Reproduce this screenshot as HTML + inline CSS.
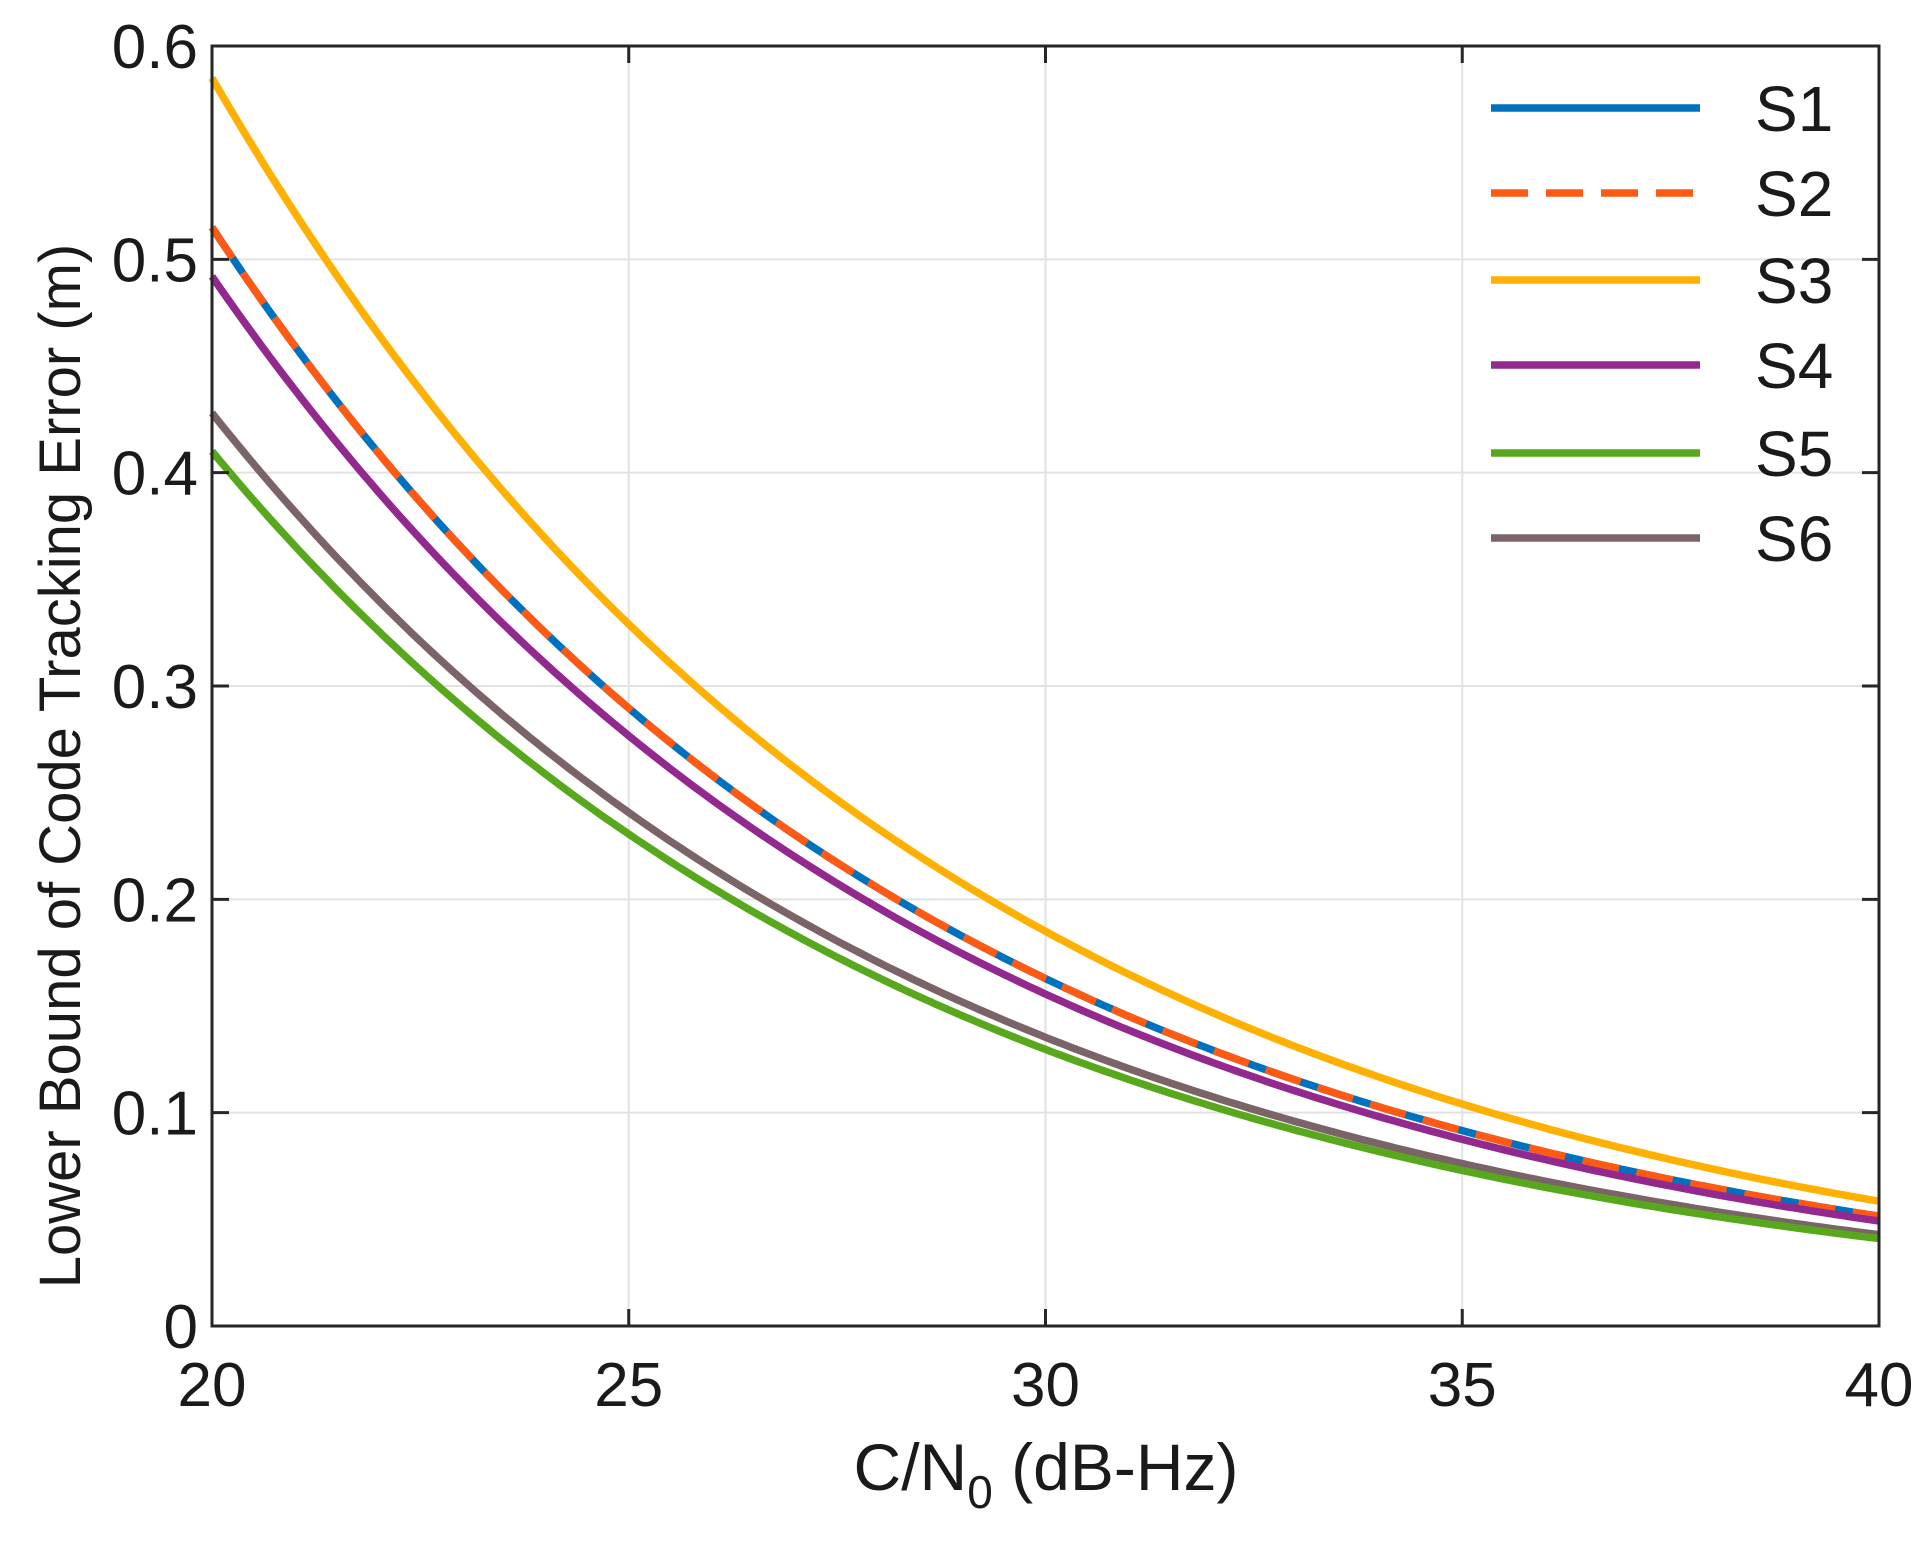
<!DOCTYPE html>
<html><head><meta charset="utf-8"><style>
html,body{margin:0;padding:0;background:#fff;}
svg text{font-family:"Liberation Sans",Arial,sans-serif;fill:#1a1a1a;}
</style></head><body>
<svg id="s" width="1929" height="1540" xmlns="http://www.w3.org/2000/svg">
<rect width="1929" height="1540" fill="#fff"/>
<g id="grid" stroke="#e2e2e2" stroke-width="2"></g>
<g id="curves" fill="none" stroke-width="7.5"></g>
<rect x="212" y="46" width="1667" height="1280" fill="none" stroke="#262626" stroke-width="3"/>
<g id="ticks" stroke="#262626" stroke-width="3"></g>
<g id="labels" font-size="62"></g>
<text x="1046" y="1490" font-size="66" text-anchor="middle">C/N<tspan font-size="46" dy="18">0</tspan><tspan dy="-18"> (dB-Hz)</tspan></text>
<text transform="translate(80,766) rotate(-90)" font-size="58" text-anchor="middle">Lower Bound of Code Tracking Error (m)</text>
<g id="legend" font-size="64"></g>
</svg>
<script>
const L=212,R=1879,T=46,B=1326;
const X=x=>L+(x-20)*(R-L)/20, Y=y=>B-y*(B-T)/0.6;
const ns="http://www.w3.org/2000/svg";
function el(p,t,a,txt){const e=document.createElementNS(ns,t);for(const k in a)e.setAttribute(k,a[k]);if(txt!=null)e.textContent=txt;document.getElementById(p).appendChild(e);}
for(let x=25;x<40;x+=5)el("grid","line",{x1:X(x),x2:X(x),y1:T,y2:B});
for(let y=0.1;y<0.55;y+=0.1)el("grid","line",{x1:L,x2:R,y1:Y(y),y2:Y(y)});
for(let x=20;x<=40;x+=5){el("ticks","line",{x1:X(x),x2:X(x),y1:B,y2:B-17});el("ticks","line",{x1:X(x),x2:X(x),y1:T,y2:T+17});
 el("labels","text",{x:X(x),y:1406,"text-anchor":"middle"},String(x));}
for(let i=0;i<=6;i++){const y=i/10;el("ticks","line",{x1:L,x2:L+17,y1:Y(y),y2:Y(y)});el("ticks","line",{x1:R,x2:R-17,y1:Y(y),y2:Y(y)});
 el("labels","text",{x:198,y:Y(y)+22,"text-anchor":"end"},i==0?"0":y.toFixed(1));}
const S=[["S1",0.515,"#0072BD",null],["S2",0.515,"#FF5A14","37 18"],["S3",0.585,"#FFB000",null],["S4",0.492,"#93298F",null],["S5",0.41,"#58A81E",null],["S6",0.428,"#7A6468",null]];
const order=[2,0,1,3,5,4];
for(const i of order){const [n,a,c,d]=S[i];let p="";for(let k=0;k<=200;k++){const x=20+k*0.1;p+=(k?"L":"M")+X(x).toFixed(1)+","+Y(a*Math.pow(10,-(x-20)/20)).toFixed(1);}
 const at={d:p,stroke:c};if(d)at["stroke-dasharray"]=d;el("curves","path",at);}
const ly=[108,193,280,365,453,538];
S.forEach((s,i)=>{const at={x1:1491,x2:1700,y1:ly[i],y2:ly[i],stroke:s[2],"stroke-width":7.5};if(s[3])at["stroke-dasharray"]=s[3];el("legend","line",at);
 el("legend","text",{x:1755,y:ly[i]+23},s[0]);});
</script>
</body></html>
